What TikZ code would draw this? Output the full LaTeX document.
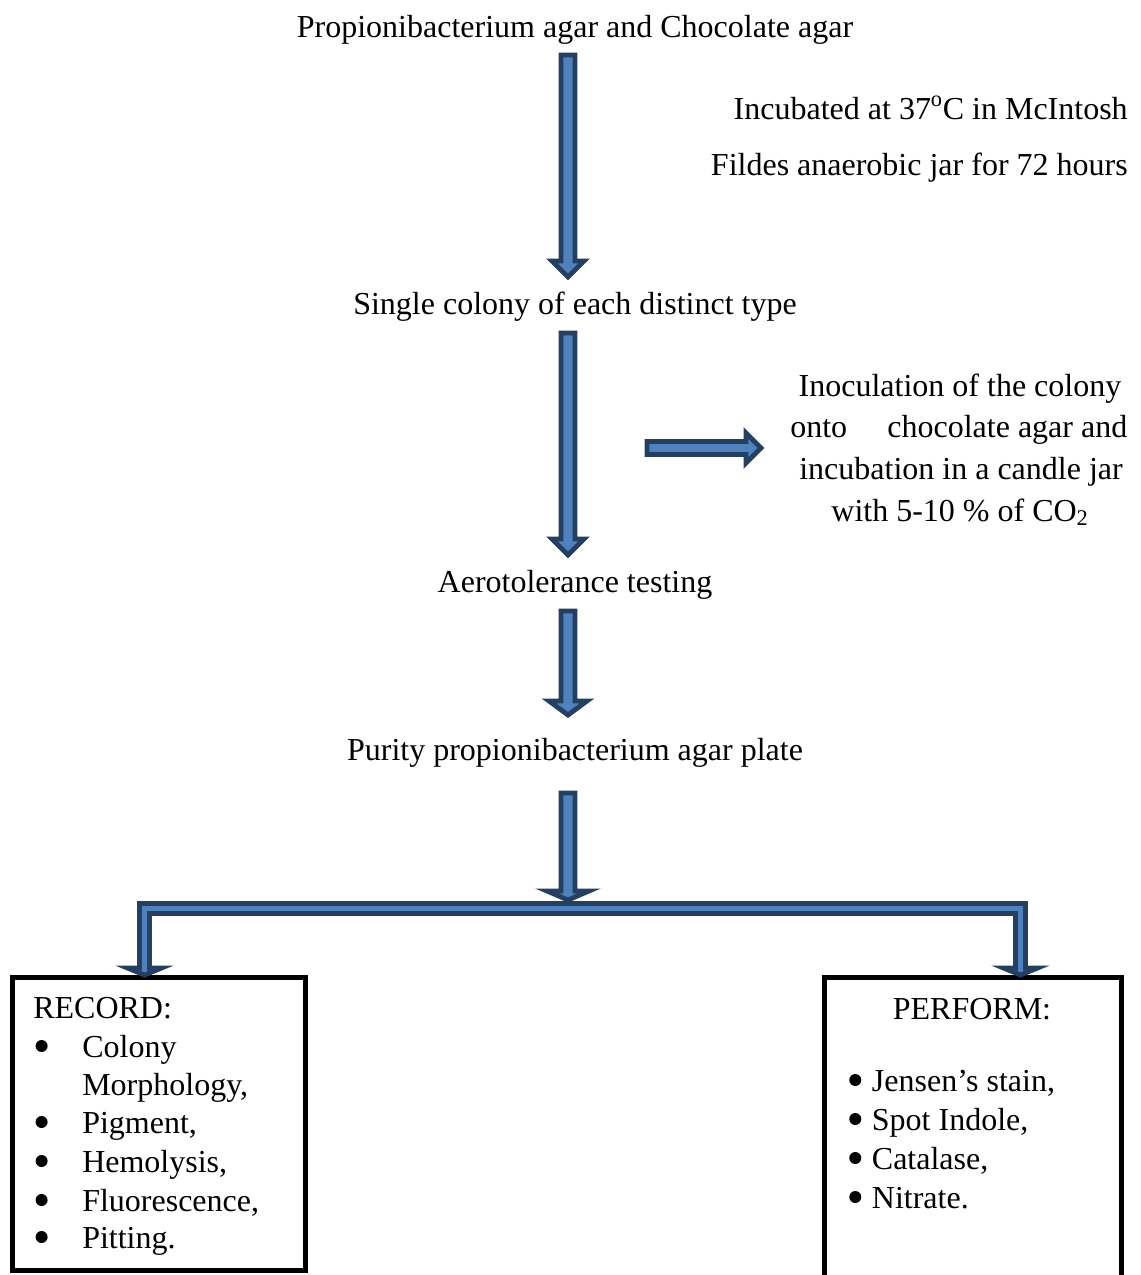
\documentclass[tikz,border=0pt]{standalone}
\usepackage{fontspec}
\setmainfont{Liberation Serif}
\usetikzlibrary{calc}
\definecolor{arrdark}{HTML}{243F60}
\definecolor{arrfill}{HTML}{4F81BD}
\tikzset{
  barrow/.style={draw=arrdark, fill=arrfill, line width=3.6pt, line join=miter, miter limit=10},
  lbl/.style={inner sep=0pt, font=\fontsize{24pt}{29pt}\selectfont, anchor=base},
  lblw/.style={lbl, anchor=base west},
  lble/.style={lbl, anchor=base east},
  boxline/.style={draw=black, line width=3.5pt},
}
\newcommand\blockdown[5]{%
  \path[barrow] let \p1=(#1), \p2=(#2) in
  (\x1-#3*0.75pt,\y1) -- (\x1+#3*0.75pt,\y1) -- (\x1+#3*0.75pt,\y2+#5*0.75pt)
  -- (\x1+#4*0.75pt,\y2+#5*0.75pt) -- (\x1,\y2) -- (\x1-#4*0.75pt,\y2+#5*0.75pt)
  -- (\x1-#3*0.75pt,\y2+#5*0.75pt) -- cycle;}
\newcommand\bul{\tikz[baseline=0pt]\fill (0,8.25pt) circle (4.5pt);}
\newcommand\lb{\llap{\bul\hspace{26pt}}}
\newcommand\rb{\bul\hspace{8pt}}
\begin{document}
\begin{tikzpicture}[x=0.75pt,y=-0.75pt]
\useasboundingbox (0,0) rectangle (1140,1275);
% texts
\node[lbl] (t1) at (575,37) {Propionibacterium agar and Chocolate agar};
\node[lble] (inc1) at (1128,119) {Incubated at 37\textsuperscript{o}C in McIntosh};
\node[lble] (inc2) at (1128,175) {Fildes anaerobic jar for 72 hours};
\node[lbl] (t2) at (575,314) {Single colony of each distinct type};
\node[lbl] (ino1) at (960,396) {Inoculation of the colony};
\node[lblw] (ino2) at (790,437) {\makebox[252.75pt][s]{onto\hfill chocolate agar and}};
\node[lbl] (ino3) at (961,479) {incubation in a candle jar};
\node[lbl] (ino4) at (960,521) {with 5-10 \% of CO\textsubscript{2}};
\node[lbl] (t3) at (575,592) {Aerotolerance testing};
\node[lbl] (t4) at (575,760) {Purity propionibacterium agar plate};
% boxes
\node[boxline, minimum width=293*0.75pt, minimum height=293*0.75pt, inner sep=0pt] (rec) at (159,1124) {};
\node[minimum width=296*0.75pt, minimum height=330*0.75pt, inner sep=0pt] (perf) at (973,1143) {};
\draw[line width=3.5pt] (perf.south west) -- (perf.north west) -- (perf.north east) -- (perf.south east);
\node[lblw] (rh) at (33,1018) {RECORD:};
\node[lblw] (r1) at (82,1057) {\lb Colony};
\node[lblw] (r2) at (82,1095) {Morphology,};
\node[lblw] (r3) at (82,1133) {\lb Pigment,};
\node[lblw] (r4) at (82,1172) {\lb Hemolysis,};
\node[lblw] (r5) at (82,1211) {\lb Fluorescence,};
\node[lblw] (r6) at (82,1248) {\lb Pitting.};
\node[lbl] (ph) at (972,1019) {PERFORM:};
\node[lblw] (p1) at (849,1091) {\rb Jensen’s stain,};
\node[lblw] (p2) at (849,1130) {\rb Spot Indole,};
\node[lblw] (p3) at (849,1169) {\rb Catalase,};
\node[lblw] (p4) at (849,1208) {\rb Nitrate.};
% arrow coordinates
\coordinate (a1s) at (568,55);  \coordinate (a1e) at (568,277);
\coordinate (a2s) at (568,333); \coordinate (a2e) at (568,555);
\coordinate (a3s) at (568,611); \coordinate (a3e) at (568,715);
\coordinate (a4s) at (568,793); \coordinate (a4e) at (568,900);
\blockdown{a1s}{a1e}{7}{16}{16}
\blockdown{a2s}{a2e}{7}{16}{16}
\blockdown{a3s}{a3e}{7}{19}{14}
\blockdown{a4s}{a4e}{7}{21}{9}
% right arrow
\coordinate (ras) at (647,448); \coordinate (rae) at (761,448);
\path[barrow] let \p1=(ras), \p2=(rae) in
  (\x1,\y1+6.5*0.75pt) -- (\x2-15*0.75pt,\y1+6.5*0.75pt) -- (\x2-15*0.75pt,\y1+15*0.75pt)
  -- (\x2,\y1) -- (\x2-15*0.75pt,\y1-15*0.75pt) -- (\x2-15*0.75pt,\y1-6.5*0.75pt)
  -- (\x1,\y1-6.5*0.75pt) -- cycle;
% bracket
\coordinate (lt) at (144.5,975); \coordinate (rt) at (1020.5,975);
\path[barrow] (139.5,903.5) -- (1025.5,903.5) -- (1025.5,968) -- (1037.5,968) -- (rt)
  -- (1003.5,968) -- (1015.5,968) -- (1015.5,913.5) -- (149.5,913.5) -- (149.5,968)
  -- (161.5,968) -- (lt) -- (127.5,968) -- (139.5,968) -- cycle;
\end{tikzpicture}
\end{document}
